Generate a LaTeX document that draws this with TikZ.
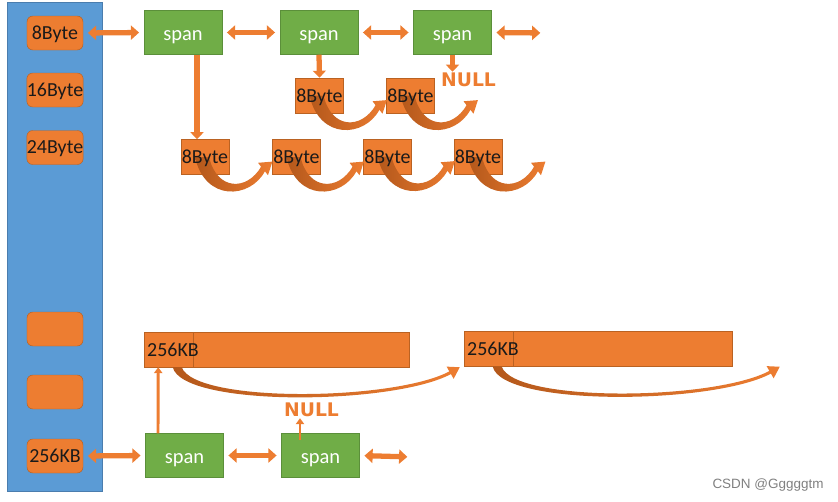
\documentclass[tikz,border=0pt]{standalone}
\usepackage{fontspec}
\setmainfont{Carlito}
\newfontfamily\heavyfont{DejaVu Sans}
\newfontfamily\markfont{Liberation Sans}
\usepackage{xcolor}
\usetikzlibrary{arrows.meta, calc}
\definecolor{orangemain}{HTML}{ED7D31}
\definecolor{orangeedge}{HTML}{BA6222}
\definecolor{orangeshade}{HTML}{B4581B}
\definecolor{greenmain}{HTML}{70AD47}
\definecolor{greenedge}{HTML}{5B8F3A}
\definecolor{bluemain}{HTML}{5B9BD5}
\definecolor{blueedge}{HTML}{4A7DAE}
\definecolor{darktext}{HTML}{1A1A1A}
\tikzset{
  every node/.append style={font=\fontsize{17}{19}\selectfont, text=darktext, text depth=0pt},
  column/.style={draw=blueedge, fill=bluemain},
  sizebox/.style={draw=orangeedge, fill=orangemain, rounded corners=5pt, minimum width=1.68cm, minimum height=1.02cm, inner sep=0pt},
  spanbox/.style={draw=greenedge, fill=greenmain, minimum width=2.34cm, minimum height=1.32cm, inner sep=0pt, text=white, text height=13pt, font=\fontsize{17.5}{19}\selectfont},
  objbox/.style={draw=orangeedge, fill=orangemain, minimum width=1.44cm, minimum height=1.05cm, inner sep=0pt},
  cellbox/.style={objbox, text width=1.29cm, inner xsep=0.09cm, align=left},
  objtext/.style={inner sep=0pt},
  nulltext/.style={text=orangemain, inner sep=1pt, font=\heavyfont\bfseries\fontsize{16}{18}\selectfont},
  link/.style={draw=orangemain, line width=4.5pt, {Triangle[length=7pt,width=12pt]}-{Triangle[length=7pt,width=12pt]}, shorten <=4pt, shorten >=4pt},
  pointer/.style={draw=orangemain, line width=4.5pt, -{Triangle[length=6pt,width=11pt]}},
  thinpointer/.style={draw=orangemain, line width=2.5pt, -{Triangle[length=5pt,width=7pt]}},
  hop/.pic={
    \shade[left color=orangeshade, middle color=orangemain, right color=orangemain]
      (0,0) .. controls (10,45) and (55,42) .. (69.9,14.3) -- (73,18.2) -- (77.4,4.6)
      -- (63,5.8) -- (66.1,9.7) .. controls (52,34) and (22,34) .. (14,0) -- cycle;
  },
  longhop/.pic={
    \shade[left color=orangeshade, middle color=orangemain!85!white, right color=orangemain]
      (0,0) .. controls (10,40) and (220,38) .. (278.2,6.8) -- (280.9,11.6) -- (287,0)
      -- (273.9,-0.6) -- (276.6,4.2) .. controls (220,34) and (22,36) .. (9,0) -- cycle;
  }
}

\begin{document}
\begin{tikzpicture}[x=0.03cm, y=-0.03cm]
    \useasboundingbox (0,0) rectangle (838,501);

    % Size class column
    \draw[column] (7,2) rectangle (102,491);
    \node[sizebox] (s8) at (55,33) {8Byte};
    \node[sizebox] (s16) at (55,90) {16Byte};
    \node[sizebox] (s24) at (55,147.5) {24Byte};
    \node[sizebox] (sblanka) at (55,329) {};
    \node[sizebox] (sblankb) at (55,392) {};
    \node[sizebox] (s256) at (55,456) {256KB};

    % Spans of the 8Byte class
    \node[spanbox] (span1) at (183,32.5) {span};
    \node[spanbox] (span2) at (319,32.5) {span};
    \node[spanbox] (span3) at (452.5,32.5) {span};
    \coordinate (topend) at (545,33);

    \node[objbox] (m1) at (319.5,95.5) {};
    \node[objbox] (m2) at (410.5,95.5) {};
    \node[nulltext] (null1) at (468.5,80) {NULL};

    \node[objbox] (b1) at (205,157) {};
    \node[objbox] (b2) at (296.5,157) {};
    \node[objbox] (b3) at (387.5,156.5) {};
    \node[objbox] (b4) at (478,157) {};

    \draw[link] (s8.east) -- (span1.west);
    \draw[link] (span1) -- (span2);
    \draw[link] (span2) -- (span3);
    \draw[link] (span3.east) -- (topend);

    \draw[pointer] ($(span1.south)+(14,0)$) -- ($(b1.north)+(-8,0)$);
    \draw[pointer] (span2.south) -- (m1.north);
    \draw[pointer] (span3.south) -- (span3.south |- null1.north);

    % Free list links, then the labels on top
    \foreach \obj in {m1, m2, b1, b2, b3, b4}
        \pic at ($(\obj.center)+(-10,0)$) {hop};
    \foreach \obj in {m1, m2, b1, b2, b3, b4}
        \node[objtext] at (\obj) {8Byte};

    % Spans of the 256KB class
    \node[objbox, minimum width=7.95cm, anchor=west] (bar1) at (144,349.5) {};
    \node[cellbox, anchor=west] (cell1) at (bar1.west) {256KB};
    \node[objbox, minimum width=8.04cm, anchor=west] (bar2) at (464,349) {};
    \node[cellbox, anchor=west] (cell2) at (bar2.west) {256KB};

    \node[spanbox] (span4) at (184.5,455.5) {span};
    \node[spanbox] (span5) at (320.5,455.5) {span};
    \coordinate (botend) at (412,457);
    \node[nulltext] (null2) at (311.5,410) {NULL};

    \draw[link] (s256.east) -- (span4.west);
    \draw[link] (span4) -- (span5);
    \draw[link] (span5.east) -- (botend);

    \draw[thinpointer] ($(span4.north)+(-26.5,0)$) -- ($(cell1.south)+(-10.5,0)$);
    \draw[thinpointer] ($(span5.north)+(-20.5,7)$) coordinate (up5) -- (up5 |- null2.south);

    \pic at ($(cell1.south)+(4,0)$) {longhop};
    \pic at ($(cell2.south)+(4,0)$) {longhop};

    % Watermark
    \node[text=gray, font=\markfont\fontsize{11.5}{13}\selectfont] (mark) at (768,484) {CSDN @Gggggtm};
\end{tikzpicture}
\end{document}
